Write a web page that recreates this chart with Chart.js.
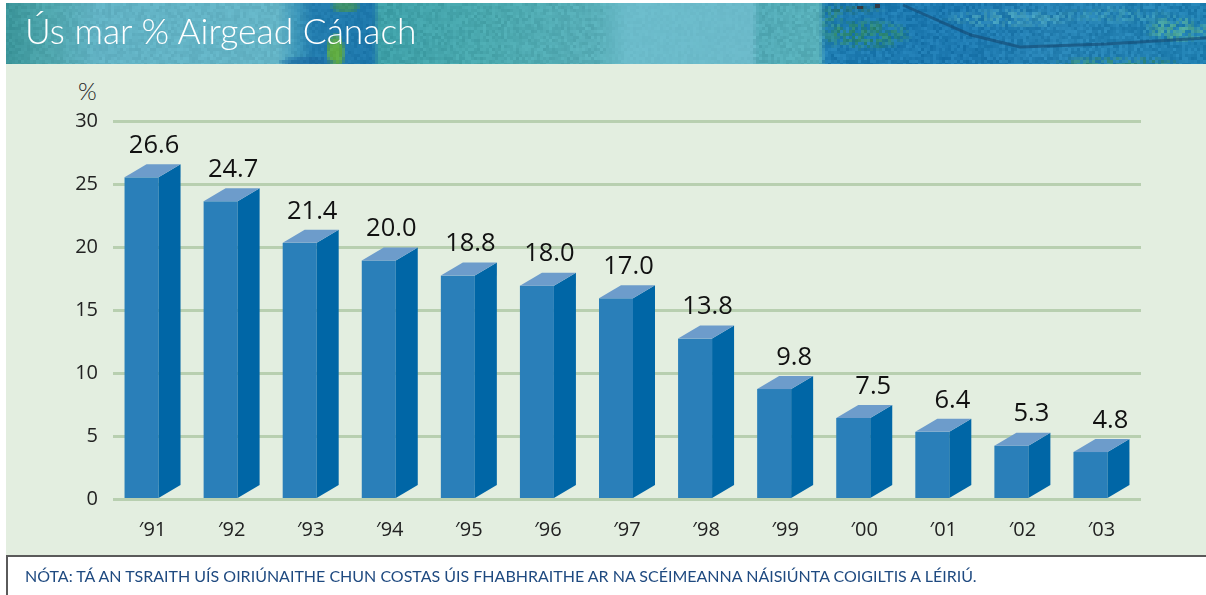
<!DOCTYPE html>
<html>
<head>
<meta charset="utf-8">
<script src="https://cdn.jsdelivr.net/npm/chart.js@4"></script>
<style>
html,body{margin:0;padding:0;background:#fff;width:1206px;height:595px;overflow:hidden}
#panel{position:absolute;left:6px;top:3px;width:1200px;height:552px;background:#e3eee0}
#banner{position:absolute;left:6px;top:3px}
#title{position:absolute;left:25px;top:9px;font:300 35.4px Lato,sans-serif;color:#fff;white-space:nowrap}
#pct{position:absolute;left:78px;top:76px;font:300 24px Lato,sans-serif;color:#222}
#foot{position:absolute;left:6px;top:555px;width:1200px;height:40px;background:#fff;border-top:2px solid #5a5a5a;border-left:2px solid #5a5a5a;box-sizing:border-box}
#note{position:absolute;left:25px;top:566px;font:16px Lato,sans-serif;color:#1f4a80;white-space:nowrap}
#c{position:absolute;left:0;top:0}
</style>
</head>
<body>
<div id="panel"></div>
<canvas id="banner" width="1200" height="61"></canvas>
<div id="title">Ús mar % Airgead Cánach</div>
<div id="pct">%</div>
<div id="foot"></div>
<div id="note">NÓTA: TÁ AN TSRAITH UÍS OIRIÚNAITHE CHUN COSTAS ÚIS FHABHRAITHE AR NA SCÉIMEANNA NÁISIÚNTA COIGILTIS A LÉIRIÚ.</div>
<div style="position:absolute;left:0;top:0;width:1206px;height:595px"><canvas id="c" width="1206" height="595"></canvas></div>
<script>
const categories = ["\u203291","\u203292","\u203293","\u203294","\u203295","\u203296","\u203297","\u203298","\u203299","\u203200","\u203201","\u203202","\u203203"];
const rates = [26.6,24.7,21.4,20.0,18.8,18.0,17.0,13.8,9.8,7.5,6.4,5.3,4.8];
const yTicks = [0,5,10,15,20,25,30];

/* decorative painted banner behind the title */
(function(){
  const b = document.getElementById('banner').getContext('2d');
  const stops = [[0,[60,150,155]],[40,[78,165,172]],[90,[98,178,196]],[270,[100,180,198]],[290,[60,150,185]],[305,[35,125,175]],[365,[30,120,172]],[372,[62,160,168]],[480,[74,168,174]],[590,[88,174,184]],[620,[108,188,203]],[745,[108,186,202]],[752,[82,170,182]],[812,[88,176,186]],[818,[31,125,178]],[950,[28,120,176]],[1050,[38,130,180]],[1200,[32,128,178]]];
  const noiseAmp = x => x<290?7 : x<372?6 : x<600?9 : x<745?3 : x<812?9 : 12;
  const h = (x,y)=>{const s=Math.sin(x*12.9898+y*78.233)*43758.5453;return s-Math.floor(s)-0.5;};
  const blobs = [[328,48,10,20,[100,175,60],.95],[338,2,16,7,[70,150,90],.8],[300,58,30,7,[30,110,165],.8],
    [825,20,12,24,[60,150,110],.6],[860,30,45,16,[50,140,90],.7],[845,5,35,5,[40,110,90],.5],
    [1000,14,70,10,[80,170,190],.7],[1110,10,60,9,[70,165,185],.6],[1170,25,35,14,[85,175,150],.8],[1110,58,70,6,[60,145,110],.7]];
  for(let y=0;y<61;y+=3){
    for(let x=0;x<1200;x+=3){
      let i=0; while(i<stops.length-2 && x>stops[i+1][0]) i++;
      const t=(x-stops[i][0])/(stops[i+1][0]-stops[i][0]);
      let col=[0,1,2].map(k=>stops[i][1][k]+(stops[i+1][1][k]-stops[i][1][k])*t);
      blobs.forEach((o,j)=>{const d=((x-o[0])/o[2])**2+((y-o[1])/o[3])**2; if(d<1){
        const mott=x>800?Math.max(0,Math.min(1,.5+h(x+j*7,y+j*11)*2.2)):1;
        const a=o[5]*(1-d*d)*mott;col=col.map((v,k)=>v*(1-a)+o[4][k]*a);}});
      const n=h(x,y)*2*noiseAmp(x);
      b.fillStyle=`rgb(${col[0]+n*.8|0},${col[1]+n|0},${col[2]+n|0})`;
      b.fillRect(x,y,3,3);
    }
  }
  b.strokeStyle='rgba(20,70,110,.6)';b.lineWidth=3;
  b.beginPath();b.moveTo(897,2);b.lineTo(965,32);b.lineTo(1014,44);b.lineTo(1100,41);b.lineTo(1200,35);b.stroke();
  b.fillStyle='rgba(60,40,40,.75)';b.fillRect(851,3,6,3);b.fillRect(869,1,5,4);
})();

const DEPTH_X = 22, DEPTH_Y = 13;
const bars3d = {
  id:'bars3d',
  afterDatasetsDraw(chart){
    const c = chart.ctx, meta = chart.getDatasetMeta(0);
    meta.data.forEach((el,i)=>{
      const {x,y,base,width} = el.getProps(['x','y','base','width'],true);
      const l = x - width/2, r = l + width - DEPTH_X, t = y + DEPTH_Y;
      c.fillStyle = '#2a7fb9';
      c.fillRect(l,t,r-l,base-t);
      c.fillStyle = '#0066a6';
      c.beginPath();c.moveTo(r,base);c.lineTo(r+DEPTH_X,base-DEPTH_Y);c.lineTo(r+DEPTH_X,y);c.lineTo(r,t);c.closePath();c.fill();
      c.fillStyle = '#6d9ccb';
      c.beginPath();c.moveTo(l,t);c.lineTo(l+DEPTH_X,y);c.lineTo(r+DEPTH_X,y);c.lineTo(r,t);c.closePath();c.fill();
      c.fillStyle = '#111';
      c.font = '25.5px "Open Sans",sans-serif';
      c.textAlign = 'center';c.textBaseline = 'middle';
      const v = rates[i];
      c.fillText(v.toFixed(1), x + (v < 10 ? 9 : 1.5), y - 18.5);
    });
  }
};

new Chart(document.getElementById('c'),{
  type:'bar',
  data:{labels:categories,datasets:[{data:rates,backgroundColor:'rgba(0,0,0,0)',barThickness:56}]},
  plugins:[bars3d],
  options:{
    responsive:false,animation:false,
    layout:{padding:{top:121.5,right:65,left:0,bottom:0}},
    plugins:{legend:{display:false},tooltip:{enabled:false}},
    scales:{
      x:{
        grid:{display:false},border:{display:false},
        ticks:{font:{size:20,family:'"Open Sans",sans-serif'},color:'#222',padding:11,maxRotation:0},
        afterFit(s){s.height=95.5;}
      },
      y:{
        min:0,max:30,
        afterBuildTicks(s){s.ticks=yTicks.map(v=>({value:v}));},
        grid:{color:'#b8cfb0',lineWidth:3,drawTicks:false},border:{display:false},
        ticks:{font:{size:20,family:'"Open Sans",sans-serif'},color:'#222',padding:15},
        afterFit(s){s.width=113;}
      }
    }
  }
});
</script>
</body>
</html>
